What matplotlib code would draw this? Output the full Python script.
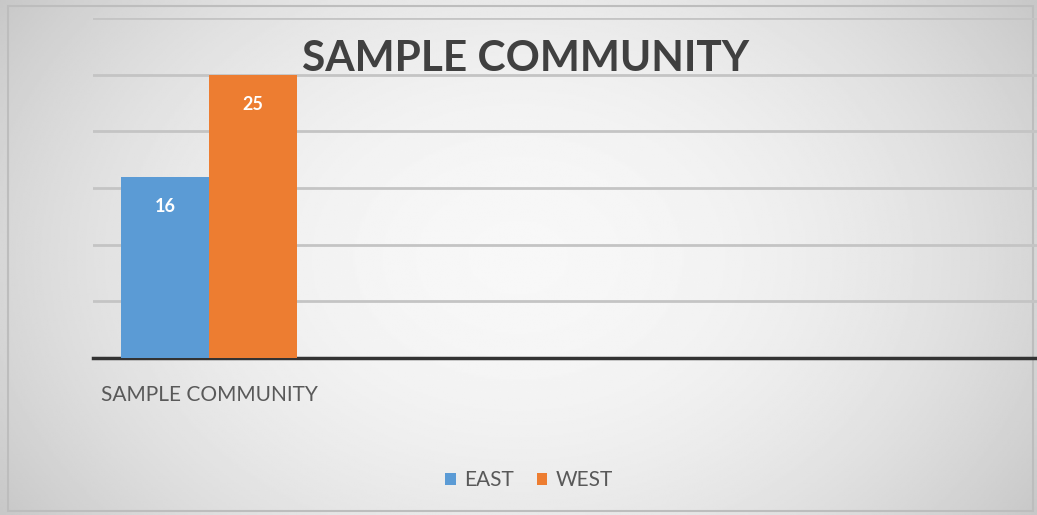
import numpy as np
import matplotlib
matplotlib.use("Agg")
import matplotlib.pyplot as plt
from matplotlib.patches import Rectangle

# data
categories = ["SAMPLE COMMUNITY"]
series_names = ["EAST", "WEST"]
east = [16]
west = [25]
colors = ["#5B9BD5", "#ED7D31"]

plt.rcParams['font.family'] = ['Lato', 'DejaVu Sans']

fig = plt.figure(figsize=(10.37, 5.15), dpi=100)

# background: soft radial grey gradient
bg = fig.add_axes([0, 0, 1, 1], zorder=-10)
yy, xx = np.mgrid[-1:1:300j, -1:1:600j]
r = np.sqrt((xx * 0.9) ** 2 + (yy * 0.6) ** 2)
bg.imshow(0.97 - 0.16 * np.clip(r, 0, 1.2) ** 2, cmap="gray", vmin=0, vmax=1,
          aspect="auto", extent=[0, 1, 0, 1])
bg.add_patch(Rectangle((0.008, 0.008), 0.988, 0.98, fill=False,
                       edgecolor="#bdbdbd", lw=1.5))
bg.set_xlim(0, 1)
bg.set_ylim(0, 1)
bg.axis("off")

ax = fig.add_axes([0.0897, 0.3049, 0.9103, 0.660])
ax.set_facecolor("none")

x = np.arange(len(categories))
w = 0.4
b1 = ax.bar(x - w / 2, east, w, color=colors[0], label=series_names[0], zorder=3)
b2 = ax.bar(x + w / 2, west, w, color=colors[1], label=series_names[1], zorder=3)

for bars in (b1, b2):
    for rect in bars:
        ax.text(rect.get_x() + rect.get_width() / 2, rect.get_height() - 2.6,
                f"{rect.get_height():.0f}", ha="center", va="center",
                color="white", fontsize=13, fontweight="bold", zorder=4)

ax.set_xlim(-0.527, 3.76)
ax.set_ylim(0, 30)
ax.set_yticks(np.arange(0, 31, 5))
ax.yaxis.grid(True, color="#c4c4c4", lw=2)
ax.set_axisbelow(True)
ax.tick_params(left=False, labelleft=False, bottom=False)
ax.set_xticks(x)
ax.set_xticklabels(categories, fontsize=15, color="#595959")
ax.tick_params(axis="x", pad=16)
for s in ["top", "right", "left"]:
    ax.spines[s].set_visible(False)
ax.spines["bottom"].set_color("#333333")
ax.spines["bottom"].set_linewidth(2.5)

fig.text(0.507, 0.886, "SAMPLE COMMUNITY", ha="center", va="center",
         fontsize=30.5, fontweight="bold", color="#404040")

fig.legend(loc="center", bbox_to_anchor=(0.51, 0.068), ncol=2, frameon=False,
           fontsize=15, labelcolor="#595959", handlelength=0.5, handleheight=0.5,
           handletextpad=0.4, columnspacing=1.1)

fig.savefig("out.png", dpi=100)
